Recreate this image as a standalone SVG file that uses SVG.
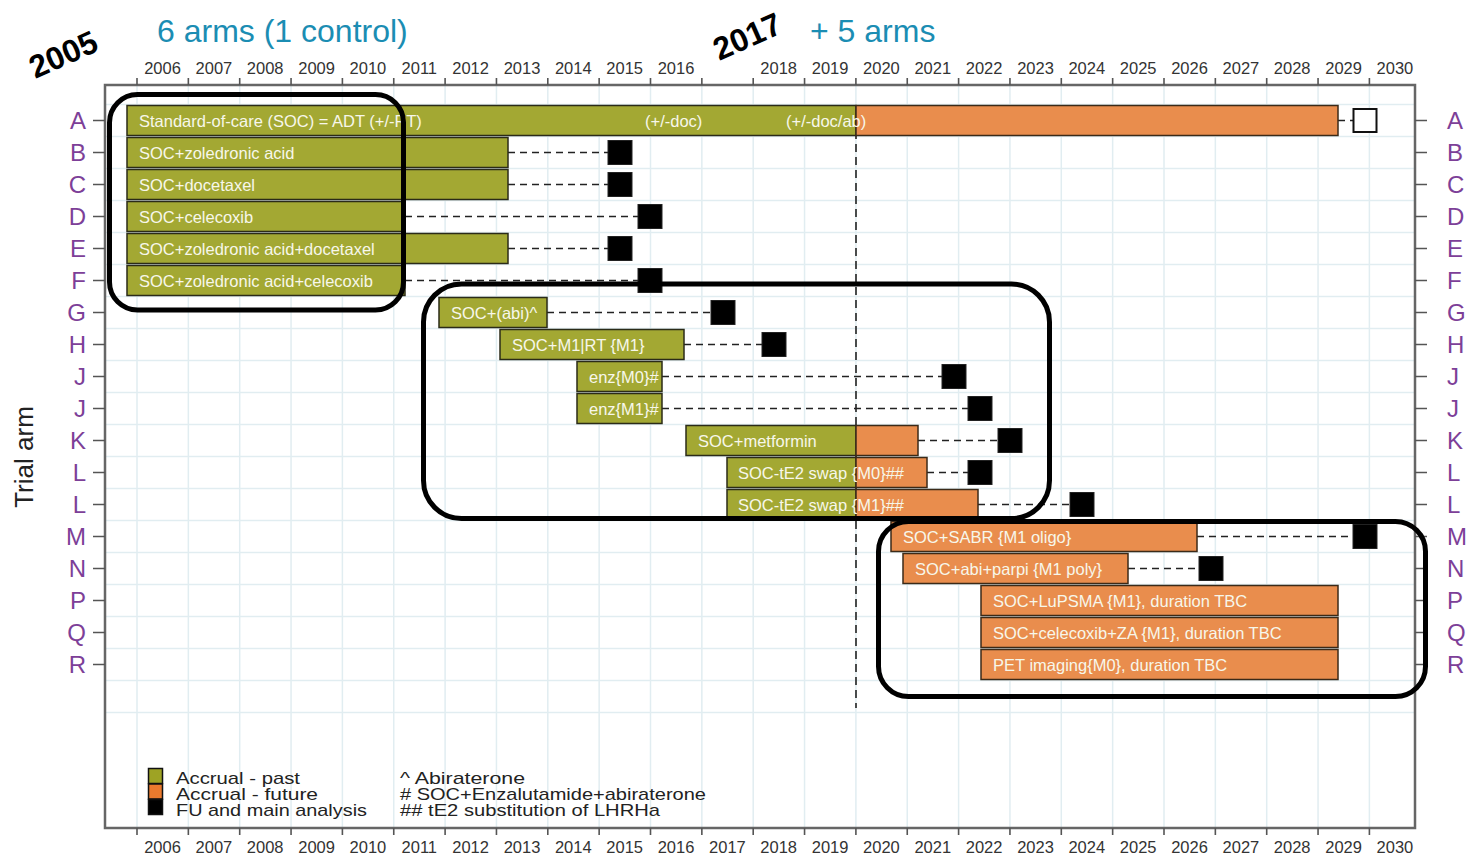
<svg xmlns="http://www.w3.org/2000/svg" width="1468" height="859" viewBox="0 0 1468 859">
  <style>
    .grid { stroke: #e1edf1; stroke-width: 1.5; fill: none; }
    .frame { fill: none; stroke: #666; stroke-width: 2.5; }
    .tick { stroke: #555; stroke-width: 1.6; fill: none; }
    .yr { font-family: "Liberation Sans", Arial, sans-serif; font-size: 16.5px; fill: #333; text-anchor: middle; }
    .arm { font-family: "Liberation Sans", Arial, sans-serif; font-size: 24px; fill: #7d3f98; }
    .arm-l { text-anchor: end; }
    .bg { fill: #a3a833; stroke: #2b2b18; stroke-width: 1.5; }
    .bo { fill: #e98d4d; stroke: #3b2a18; stroke-width: 1.5; }
    .lbl { font-family: "Liberation Sans", Arial, sans-serif; font-size: 16.5px; fill: #f7f7ea; }
    .sq { fill: #000; stroke: #222; stroke-width: 1; }
    .dash { stroke: #222; stroke-width: 1.6; stroke-dasharray: 7 5; fill: none; }
    .vdash { stroke: #222; stroke-width: 1.6; stroke-dasharray: 8 5; fill: none; }
    .hl { fill: none; stroke: #000; stroke-width: 5; }
    .title { font-family: "Liberation Sans", Arial, sans-serif; font-size: 32px; fill: #1b8db3; }
    .big { font-family: "Liberation Sans", Arial, sans-serif; font-size: 32px; font-weight: bold; fill: #000; text-anchor: middle; }
    .leg { font-family: "Liberation Sans", Arial, sans-serif; font-size: 17px; fill: #222; }
  </style>

  <!-- background grid -->
  <g id="grid">
    <path class="grid" d="M137 85V828 M188.35 85V828 M239.7 85V828 M291.05 85V828 M342.4 85V828 M393.75 85V828 M445.1 85V828 M496.45 85V828 M547.8 85V828 M599.15 85V828 M650.5 85V828 M701.85 85V828 M753.2 85V828 M804.55 85V828 M855.9 85V828 M907.25 85V828 M958.6 85V828 M1009.95 85V828 M1061.3 85V828 M1112.65 85V828 M1164 85V828 M1215.35 85V828 M1266.7 85V828 M1318.05 85V828 M1369.4 85V828"/>
    <path class="grid" d="M105 104.5H1415 M105 136.5H1415 M105 168.5H1415 M105 200.5H1415 M105 232.5H1415 M105 264.5H1415 M105 296.5H1415 M105 328.5H1415 M105 360.5H1415 M105 392.5H1415 M105 424.5H1415 M105 456.5H1415 M105 488.5H1415 M105 520.5H1415 M105 552.5H1415 M105 584.5H1415 M105 616.5H1415 M105 648.5H1415 M105 680.5H1415 M105 712.5H1415"/>
  </g>

  <!-- plot frame, axis ticks and year labels -->
  <g id="axes">
    <rect class="frame" x="105" y="85" width="1310" height="743"/>
    <path class="tick" d="M137 78V85 M188.35 78V85 M239.7 78V85 M291.05 78V85 M342.4 78V85 M393.75 78V85 M445.1 78V85 M496.45 78V85 M547.8 78V85 M599.15 78V85 M650.5 78V85 M701.85 78V85 M753.2 78V85 M804.55 78V85 M855.9 78V85 M907.25 78V85 M958.6 78V85 M1009.95 78V85 M1061.3 78V85 M1112.65 78V85 M1164 78V85 M1215.35 78V85 M1266.7 78V85 M1318.05 78V85 M1369.4 78V85"/>
    <path class="tick" d="M137 828V835 M188.35 828V835 M239.7 828V835 M291.05 828V835 M342.4 828V835 M393.75 828V835 M445.1 828V835 M496.45 828V835 M547.8 828V835 M599.15 828V835 M650.5 828V835 M701.85 828V835 M753.2 828V835 M804.55 828V835 M855.9 828V835 M907.25 828V835 M958.6 828V835 M1009.95 828V835 M1061.3 828V835 M1112.65 828V835 M1164 828V835 M1215.35 828V835 M1266.7 828V835 M1318.05 828V835 M1369.4 828V835"/>
    <path class="tick" d="M93 120.5H105 M93 152.5H105 M93 184.5H105 M93 216.5H105 M93 248.5H105 M93 280.5H105 M93 312.5H105 M93 344.5H105 M93 376.5H105 M93 408.5H105 M93 440.5H105 M93 472.5H105 M93 504.5H105 M93 536.5H105 M93 568.5H105 M93 600.5H105 M93 632.5H105 M93 664.5H105"/>
    <path class="tick" d="M1415 120.5H1427 M1415 152.5H1427 M1415 184.5H1427 M1415 216.5H1427 M1415 248.5H1427 M1415 280.5H1427 M1415 312.5H1427 M1415 344.5H1427 M1415 376.5H1427 M1415 408.5H1427 M1415 440.5H1427 M1415 472.5H1427 M1415 504.5H1427 M1415 536.5H1427 M1415 568.5H1427 M1415 600.5H1427 M1415 632.5H1427 M1415 664.5H1427"/>
    <g class="yr">
      <text x="162.5" y="74">2006</text><text x="213.9" y="74">2007</text><text x="265.2" y="74">2008</text><text x="316.6" y="74">2009</text><text x="367.9" y="74">2010</text><text x="419.3" y="74">2011</text><text x="470.6" y="74">2012</text><text x="522" y="74">2013</text><text x="573.3" y="74">2014</text><text x="624.7" y="74">2015</text><text x="676" y="74">2016</text><text x="778.7" y="74">2018</text><text x="830.1" y="74">2019</text><text x="881.4" y="74">2020</text><text x="932.8" y="74">2021</text><text x="984.1" y="74">2022</text><text x="1035.5" y="74">2023</text><text x="1086.8" y="74">2024</text><text x="1138.2" y="74">2025</text><text x="1189.5" y="74">2026</text><text x="1240.9" y="74">2027</text><text x="1292.2" y="74">2028</text><text x="1343.6" y="74">2029</text><text x="1394.9" y="74">2030</text>
    </g>
    <g class="yr">
      <text x="162.5" y="853">2006</text><text x="213.9" y="853">2007</text><text x="265.2" y="853">2008</text><text x="316.6" y="853">2009</text><text x="367.9" y="853">2010</text><text x="419.3" y="853">2011</text><text x="470.6" y="853">2012</text><text x="522" y="853">2013</text><text x="573.3" y="853">2014</text><text x="624.7" y="853">2015</text><text x="676" y="853">2016</text><text x="727.4" y="853">2017</text><text x="778.7" y="853">2018</text><text x="830.1" y="853">2019</text><text x="881.4" y="853">2020</text><text x="932.8" y="853">2021</text><text x="984.1" y="853">2022</text><text x="1035.5" y="853">2023</text><text x="1086.8" y="853">2024</text><text x="1138.2" y="853">2025</text><text x="1189.5" y="853">2026</text><text x="1240.9" y="853">2027</text><text x="1292.2" y="853">2028</text><text x="1343.6" y="853">2029</text><text x="1394.9" y="853">2030</text>
    </g>
    <g class="arm arm-l">
      <text x="86" y="129">A</text><text x="86" y="161">B</text><text x="86" y="193">C</text><text x="86" y="225">D</text><text x="86" y="257">E</text><text x="86" y="289">F</text><text x="86" y="321">G</text><text x="86" y="353">H</text><text x="86" y="385">J</text><text x="86" y="417">J</text><text x="86" y="449">K</text><text x="86" y="481">L</text><text x="86" y="513">L</text><text x="86" y="545">M</text><text x="86" y="577">N</text><text x="86" y="609">P</text><text x="86" y="641">Q</text><text x="86" y="673">R</text>
    </g>
    <g class="arm">
      <text x="1447" y="129">A</text><text x="1447" y="161">B</text><text x="1447" y="193">C</text><text x="1447" y="225">D</text><text x="1447" y="257">E</text><text x="1447" y="289">F</text><text x="1447" y="321">G</text><text x="1447" y="353">H</text><text x="1447" y="385">J</text><text x="1447" y="417">J</text><text x="1447" y="449">K</text><text x="1447" y="481">L</text><text x="1447" y="513">L</text><text x="1447" y="545">M</text><text x="1447" y="577">N</text><text x="1447" y="609">P</text><text x="1447" y="641">Q</text><text x="1447" y="673">R</text>
    </g>
    <text transform="translate(33 457) rotate(-90)" text-anchor="middle" font-family="Liberation Sans, Arial, sans-serif" font-size="26" fill="#222">Trial arm</text>
  </g>

  <!-- 2020 divider -->
  <path class="vdash" d="M856 105V708"/>

  <!-- connectors: follow-up periods -->
  <g id="connectors">
    <path class="dash" d="M1338 120.5H1353"/>
    <path class="dash" d="M508 152.5H608"/>
    <path class="dash" d="M508 184.5H608"/>
    <path class="dash" d="M405 216.5H638"/>
    <path class="dash" d="M508 248.5H608"/>
    <path class="dash" d="M405 280.5H638"/>
    <path class="dash" d="M547 312.5H711"/>
    <path class="dash" d="M684 344.5H762"/>
    <path class="dash" d="M662 376.5H942"/>
    <path class="dash" d="M662 408.5H968"/>
    <path class="dash" d="M918 440.5H998"/>
    <path class="dash" d="M927 472.5H968"/>
    <path class="dash" d="M978 504.5H1070"/>
    <path class="dash" d="M1197 536.5H1353"/>
    <path class="dash" d="M1128 568.5H1199"/>
  </g>

  <!-- trial arms -->
  <g id="arm-A">
    <rect class="bg" x="127" y="105.5" width="729" height="30"/>
    <rect class="bo" x="856" y="105.5" width="482" height="30"/>
    <text class="lbl" x="139" y="126.5">Standard-of-care (SOC) = ADT (+/-RT)</text>
    <text class="lbl" x="645" y="126.5">(+/-doc)</text>
    <text class="lbl" x="786" y="126.5">(+/-doc/ab)</text>
    <rect x="1353.5" y="109" width="23" height="23" fill="#fff" stroke="#111" stroke-width="2"/>
  </g>
  <g id="arm-B">
    <rect class="bg" x="127" y="137.5" width="381" height="30"/>
    <text class="lbl" x="139" y="158.5">SOC+zoledronic acid</text>
    <rect class="sq" x="608" y="140.5" width="24" height="24"/>
  </g>
  <g id="arm-C">
    <rect class="bg" x="127" y="169.5" width="381" height="30"/>
    <text class="lbl" x="139" y="190.5">SOC+docetaxel</text>
    <rect class="sq" x="608" y="172.5" width="24" height="24"/>
  </g>
  <g id="arm-D">
    <rect class="bg" x="127" y="201.5" width="278" height="30"/>
    <text class="lbl" x="139" y="222.5">SOC+celecoxib</text>
    <rect class="sq" x="638" y="204.5" width="24" height="24"/>
  </g>
  <g id="arm-E">
    <rect class="bg" x="127" y="233.5" width="381" height="30"/>
    <text class="lbl" x="139" y="254.5">SOC+zoledronic acid+docetaxel</text>
    <rect class="sq" x="608" y="236.5" width="24" height="24"/>
  </g>
  <g id="arm-F">
    <rect class="bg" x="127" y="265.5" width="278" height="30"/>
    <text class="lbl" x="139" y="286.5">SOC+zoledronic acid+celecoxib</text>
    <rect class="sq" x="638" y="268.5" width="24" height="24"/>
  </g>
  <g id="arm-G">
    <rect class="bg" x="439" y="297.5" width="108" height="30"/>
    <text class="lbl" x="451" y="318.5">SOC+(abi)^</text>
    <rect class="sq" x="711" y="300.5" width="24" height="24"/>
  </g>
  <g id="arm-H">
    <rect class="bg" x="500" y="329.5" width="184" height="30"/>
    <text class="lbl" x="512" y="350.5">SOC+M1|RT {M1}</text>
    <rect class="sq" x="762" y="332.5" width="24" height="24"/>
  </g>
  <g id="arm-J-M0">
    <rect class="bg" x="577" y="361.5" width="85" height="30"/>
    <text class="lbl" x="589" y="382.5">enz{M0}#</text>
    <rect class="sq" x="942" y="364.5" width="24" height="24"/>
  </g>
  <g id="arm-J-M1">
    <rect class="bg" x="577" y="393.5" width="85" height="30"/>
    <text class="lbl" x="589" y="414.5">enz{M1}#</text>
    <rect class="sq" x="968" y="396.5" width="24" height="24"/>
  </g>
  <g id="arm-K">
    <rect class="bg" x="686" y="425.5" width="170" height="30"/>
    <rect class="bo" x="856" y="425.5" width="62" height="30"/>
    <text class="lbl" x="698" y="446.5">SOC+metformin</text>
    <rect class="sq" x="998" y="428.5" width="24" height="24"/>
  </g>
  <g id="arm-L-M0">
    <rect class="bg" x="727" y="457.5" width="129" height="30"/>
    <rect class="bo" x="856" y="457.5" width="71" height="30"/>
    <text class="lbl" x="738" y="478.5">SOC-tE2 swap {M0}##</text>
    <rect class="sq" x="968" y="460.5" width="24" height="24"/>
  </g>
  <g id="arm-L-M1">
    <rect class="bg" x="727" y="489.5" width="129" height="30"/>
    <rect class="bo" x="856" y="489.5" width="122" height="30"/>
    <text class="lbl" x="738" y="510.5">SOC-tE2 swap {M1}##</text>
    <rect class="sq" x="1070" y="492.5" width="24" height="24"/>
  </g>
  <g id="arm-M">
    <rect class="bo" x="891" y="521.5" width="306" height="30"/>
    <text class="lbl" x="903" y="542.5">SOC+SABR {M1 oligo}</text>
    <rect class="sq" x="1353" y="524.5" width="24" height="24"/>
  </g>
  <g id="arm-N">
    <rect class="bo" x="903" y="553.5" width="225" height="30"/>
    <text class="lbl" x="915" y="574.5">SOC+abi+parpi {M1 poly}</text>
    <rect class="sq" x="1199" y="556.5" width="24" height="24"/>
  </g>
  <g id="arm-P">
    <rect class="bo" x="981" y="585.5" width="357" height="30"/>
    <text class="lbl" x="993" y="606.5">SOC+LuPSMA {M1}, duration TBC</text>
  </g>
  <g id="arm-Q">
    <rect class="bo" x="981" y="617.5" width="357" height="30"/>
    <text class="lbl" x="993" y="638.5">SOC+celecoxib+ZA {M1}, duration TBC</text>
  </g>
  <g id="arm-R">
    <rect class="bo" x="981" y="649.5" width="357" height="30"/>
    <text class="lbl" x="993" y="670.5">PET imaging{M0}, duration TBC</text>
  </g>

  <!-- legend -->
  <g id="legend">
    <rect x="148.5" y="768.5" width="14" height="15" fill="#9ea324" stroke="#111" stroke-width="1.5"/>
    <rect x="148.5" y="784" width="14" height="15" fill="#ea7a2e" stroke="#111" stroke-width="1.5"/>
    <rect x="148.5" y="799.5" width="14" height="15" fill="#000" stroke="#111" stroke-width="1.5"/>
    <text class="leg" x="176" y="784" textLength="124" lengthAdjust="spacingAndGlyphs">Accrual - past</text>
    <text class="leg" x="176" y="800" textLength="142" lengthAdjust="spacingAndGlyphs">Accrual - future</text>
    <text class="leg" x="176" y="816" textLength="191" lengthAdjust="spacingAndGlyphs">FU and main analysis</text>
    <text class="leg" x="400" y="784" textLength="125" lengthAdjust="spacingAndGlyphs">^ Abiraterone</text>
    <text class="leg" x="400" y="800" textLength="306" lengthAdjust="spacingAndGlyphs"># SOC+Enzalutamide+abiraterone</text>
    <text class="leg" x="400" y="816" textLength="260" lengthAdjust="spacingAndGlyphs">## tE2 substitution of LHRHa</text>
  </g>

  <!-- phase groupings -->
  <g id="groups">
    <rect id="group-2005" class="hl" x="109.5" y="94.5" width="294" height="215.5" rx="28"/>
    <rect id="group-mid" class="hl" x="423.5" y="284" width="626" height="234.5" rx="38"/>
    <rect id="group-2017" class="hl" x="878.5" y="521.5" width="547" height="175" rx="30"/>
  </g>

  <!-- headings -->
  <g id="headings">
    <text class="title" x="157" y="42">6 arms (1 control)</text>
    <text class="title" x="810" y="42">+ 5 arms</text>
    <text class="big" transform="translate(63 54) rotate(-24)" y="11.5">2005</text>
    <text class="big" transform="translate(747 36) rotate(-24)" y="11.5">2017</text>
  </g>
</svg>
